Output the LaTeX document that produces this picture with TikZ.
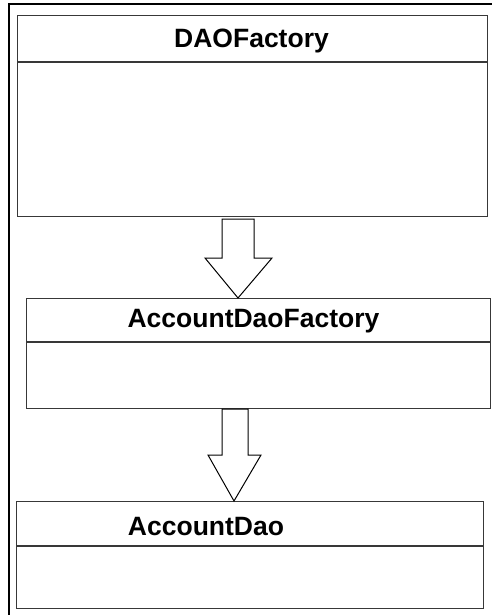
\documentclass[tikz,border=0pt]{standalone}
\usepackage{fontspec}
\setmainfont{Liberation Sans}
\begin{document}
\begin{tikzpicture}[x=1pt,y=-1pt,
  umlbox/.style={draw=black!78, line width=1.4pt, fill=white, rectangle, anchor=north west, inner sep=0pt},
  divider/.style={draw=black!78, line width=1.4pt},
  title/.style={anchor=base, inner sep=0pt, font=\fontsize{26.5}{30}\selectfont\bfseries},
  inherit/.style={draw=black, line width=1pt, fill=white, line join=miter}]
\useasboundingbox (0,0) rectangle (492,615);
\fill[white] (0,0) rectangle (492,615);
% outer frame
\draw[black, line width=2.5pt] (9,616) -- (9,4) -- (493,4);
% boxes
\node[umlbox, minimum width=469.5pt, minimum height=201pt] (b1) at (17,15) {};
\node[umlbox, minimum width=464pt, minimum height=110pt] (b2) at (26,298) {};
\node[umlbox, minimum width=467pt, minimum height=107pt] (b3) at (16,501) {};
% dividers
\draw[divider] (b1.west |- 0,62) -- (b1.east |- 0,62);
\draw[divider] (b2.west |- 0,342) -- (b2.east |- 0,342);
\draw[divider] (b3.west |- 0,546) -- (b3.east |- 0,546);
% titles
\node[title] (t1) at (251.5,48) {DAOFactory};
\node[title] (t2) at (253.5,327) {AccountDaoFactory};
\node[title] (t3) at (206,535) {AccountDao};
% inheritance arrows
\coordinate (tip1) at (238,0 |- b2.north);
\coordinate (tip2) at (234,0 |- b3.north);
\draw[inherit] (222,219) -- (254,219) -- (254,258) -- (272,258) -- (tip1) -- (205,258) -- (222,258) -- cycle;
\draw[inherit] (222,409) -- (248,409) -- (248,455) -- (261,455) -- (tip2) -- (208,455) -- (222,455) -- cycle;
\end{tikzpicture}
\end{document}
